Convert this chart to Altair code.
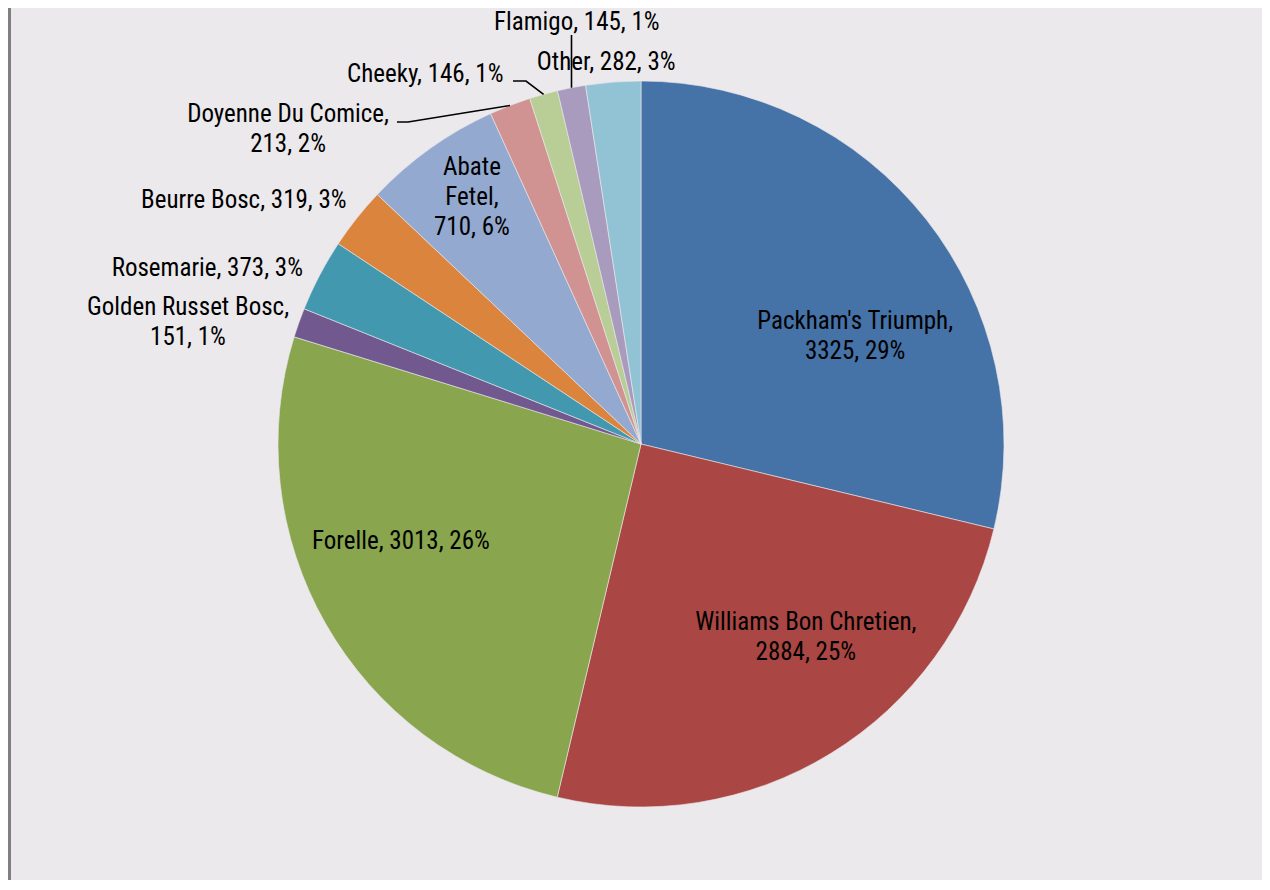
import math
import altair as alt
import pandas as pd

# ---------------- data ----------------
names = ["Packham's Triumph", "Williams Bon Chretien", "Forelle", "Golden Russet Bosc",
         "Rosemarie", "Beurre Bosc", "Abate Fetel", "Doyenne Du Comice", "Cheeky",
         "Flamigo", "Other"]
values = [3325, 2884, 3013, 151, 373, 319, 710, 213, 146, 145, 282]
percents = [29, 25, 26, 1, 3, 3, 6, 2, 1, 1, 3]
colors = ["#4572A7", "#AA4643", "#89A54E", "#71588F", "#4198AF", "#DB843D",
          "#93A9CF", "#D19392", "#B9CD96", "#A99BBD", "#92C3D4"]

# ---------------- layout ----------------
W, H = 1254, 872
CX, CY = 633, 436          # pie centre (chart coords)
R = 363                    # pie radius
FONT = "Liberation Sans Narrow, Arial Narrow, Roboto Condensed, Liberation Sans, sans-serif"
FS, LH = 25, 30

# label text style: 0 = one line, 1 = break after name, 2 = break inside name too
label_style = [1, 1, 0, 1, 0, 0, 2, 1, 0, 0, 0]
# label placement (block centre): angular nudge from slice mid-angle (deg), radius (px)
label_nudge = [11.4, -8.9, 7.7, -4.5, -5.6, -6.9, 1.1, -27.1, -14.7, 2.4, -0.8]
label_radius = [240, 254, 259, 469, 468, 466, 299, 473, 428, 427, 384]
# leader lines: label-side points (chart coords), joined to the slice edge
leaders = {
    "Doyenne Du Comice": [(389, 114), (400, 114)],
    "Cheeky": [(505, 73), (518, 73)],
    "Flamigo": [(563.5, 27)],
}

total = sum(values)
rows = []
cum = 0
for i, (n, v, p) in enumerate(zip(names, values, percents)):
    mid = (cum + v / 2) / total * 360
    cum += v
    if label_style[i] == 0:
        txt = f"{n}, {v}, {p}%"
    elif label_style[i] == 1:
        txt = f"{n},\n{v}, {p}%"
    else:
        txt = n.replace(" ", "\n") + f",\n{v}, {p}%"
    nlines = txt.count("\n") + 1
    a = math.radians(mid + label_nudge[i])
    # block centre -> first-line anchor (Vega anchors the first line)
    dx = label_radius[i] * math.sin(a)
    dy = -label_radius[i] * math.cos(a) - (nlines - 1) * LH / 2
    lr = math.hypot(dx, dy)
    lt = math.atan2(dx, -dy)
    rows.append(dict(name=n, value=v, order=i, mid=mid, label=txt, lt=lt, lr=lr))
df = pd.DataFrame(rows)

lead_rows = []
for n, pts in leaders.items():
    mid = df.loc[df.name == n, "mid"].iloc[0]
    ex = CX + R * math.sin(math.radians(mid))
    ey = CY - R * math.cos(math.radians(mid))
    if len(pts) == 1:
        seq = [(ex, ey), (ex, pts[0][1])]
    else:
        seq = [(ex, ey)] + list(reversed(pts))
    for k, (x, y) in enumerate(seq):
        lead_rows.append(dict(name=n, k=k, x=x, y=y))
lead_df = pd.DataFrame(lead_rows)

pie = alt.Chart(df).mark_arc(outerRadius=R, stroke="#EBE9EC", strokeWidth=0.6).encode(
    theta=alt.Theta("value:Q", stack=True),
    color=alt.Color("name:N", scale=alt.Scale(domain=names, range=colors), legend=None),
    order=alt.Order("order:Q"),
    x=alt.value(CX),
    y=alt.value(CY),
)

labels = alt.Chart(df).mark_text(
    font=FONT, fontSize=FS, lineBreak="\n", lineHeight=LH,
    align="center", baseline="middle", color="#000000",
).encode(
    theta=alt.Theta("lt:Q", scale=None, stack=False),
    radius=alt.Radius("lr:Q", scale=None),
    text="label:N",
    x=alt.value(CX),
    y=alt.value(CY),
)

lines = alt.Chart(lead_df).mark_line(color="#000000", strokeWidth=1.6).encode(
    x=alt.X("x:Q", scale=None),
    y=alt.Y("y:Q", scale=None),
    detail="name:N",
    order="k:Q",
)

border = alt.Chart(df).mark_rule(color="#808080", strokeWidth=2).encode(
    x=alt.value(1.5), y=alt.value(0), y2=alt.value(H)
)

chart = alt.layer(pie, lines, labels, border).properties(
    width=W, height=H, background="#EBE9EC", padding=0,
    autosize=alt.AutoSizeParams(type="none"),
).configure_view(stroke=None)

chart.save("out.html", embed_options={"renderer": "svg", "actions": False})
